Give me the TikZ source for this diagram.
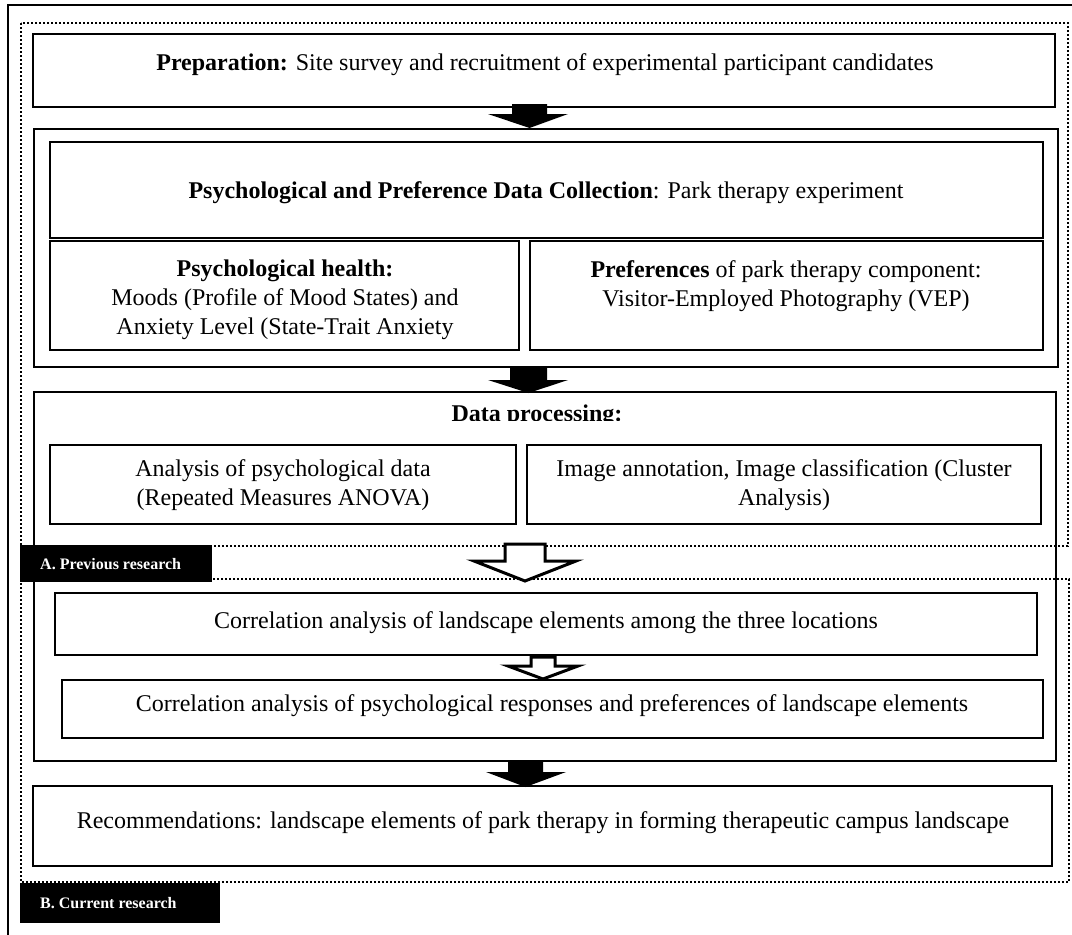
\documentclass[tikz,border=0pt]{standalone}
\usepackage{fontspec}
\setmainfont{Liberation Serif}
\begin{document}
\begin{tikzpicture}[x=1pt,y=-1pt,
  box/.style={draw=black,line width=2.8pt},
  dotbox/.style={draw=black,line width=2.8pt,dash pattern=on 2.2pt off 1.8pt},
  txt/.style={font=\fontsize{24}{29}\selectfont,align=center,inner sep=0pt},
  lbl/.style={font=\fontsize{16}{18}\selectfont\bfseries,text=white,inner sep=0pt,anchor=west},
  solidarrow/.style={fill=black,draw=none},
  hollowarrow/.style={fill=white,draw=black,line width=3pt,line join=miter}]
\useasboundingbox (0,0) rectangle (1072,935);
\fill[white] (0,0) rectangle (1072,935);
% outer frame
\draw[line width=1.6pt] (8,935) -- (8,5) -- (1072,5);
% dotted groups
\draw[dotbox] (21,23) rectangle (1068,546);
\draw[dotbox] (21,579) rectangle (1069,882);
% boxes
\draw[box] (33,34) rectangle (1055,107);
\draw[box] (34,129) rectangle (1058,367);
\draw[box] (50,142) rectangle (1043,238);
\draw[box] (50,241) rectangle (519,350);
\draw[box] (530,241) rectangle (1043,350);
\draw[box] (34,392) rectangle (1056,761);
\draw[box] (50,445) rectangle (516,524);
\draw[box] (527,445) rectangle (1041,524);
\draw[box] (55,593) rectangle (1037,655);
\draw[box] (62,680) rectangle (1043,738);
\draw[box] (33,786) rectangle (1052,866);
% texts
\node[txt] (tprep) at (545,64.5) {\textbf{Preparation:} Site survey and recruitment of experimental participant candidates};
\node[txt] (tcoll) at (546,192.5) {\textbf{Psychological and Preference Data Collection}: Park therapy experiment};
\node[txt] (thealth) at (285,300) {\textbf{Psychological health:}\\Moods (Profile of Mood States) and\\Anxiety Level (State-Trait Anxiety};
\node[txt] (tpref) at (786,286) {\textbf{Preferences} of park therapy component:\\Visitor-Employed Photography (VEP)};
\begin{scope}
\clip (300,396) rectangle (800,420);
\node[txt,anchor=base] (tdp) at (537,421) {\textbf{Data processing:}};
\end{scope}
\node[txt] (tana) at (283,485) {Analysis of psychological data\\(Repeated Measures ANOVA)};
\node[txt] (timg) at (784,485) {Image annotation, Image classification (Cluster\\Analysis)};
\node[txt] (tcor1) at (546,623) {Correlation analysis of landscape elements among the three locations};
\node[txt] (tcor2) at (552,706) {Correlation analysis of psychological responses and preferences of landscape elements};
\node[txt] (trec) at (543,823) {Recommendations: landscape elements of park therapy in forming therapeutic campus landscape};
% labels
\fill[black] (20,545) rectangle (212,582);
\node[lbl] (la) at (40,564) {A. Previous research};
\fill[black] (20,883) rectangle (220,923);
\node[lbl] (lb) at (40,903) {B. Current research};
% solid arrows
\fill[solidarrow] (512,104) -- (547,104) -- (547,114) -- (568,114) -- (529.5,128) -- (488,114) -- (512,114) -- cycle;
\fill[solidarrow] (510,366) -- (547,366) -- (547,380) -- (568,380) -- (528.5,393) -- (488,380) -- (510,380) -- cycle;
\fill[solidarrow] (508,760) -- (543,760) -- (543,772) -- (566,772) -- (525.5,787) -- (486,772) -- (508,772) -- cycle;
% hollow arrows
\draw[hollowarrow] (505,544) -- (545,544) -- (545,561) -- (576,561) -- (525,581) -- (474,561) -- (505,561) -- cycle;
\draw[hollowarrow] (531,657) -- (555,657) -- (555,666) -- (578,666) -- (543,679) -- (508,666) -- (531,666) -- cycle;
\end{tikzpicture}
\end{document}
